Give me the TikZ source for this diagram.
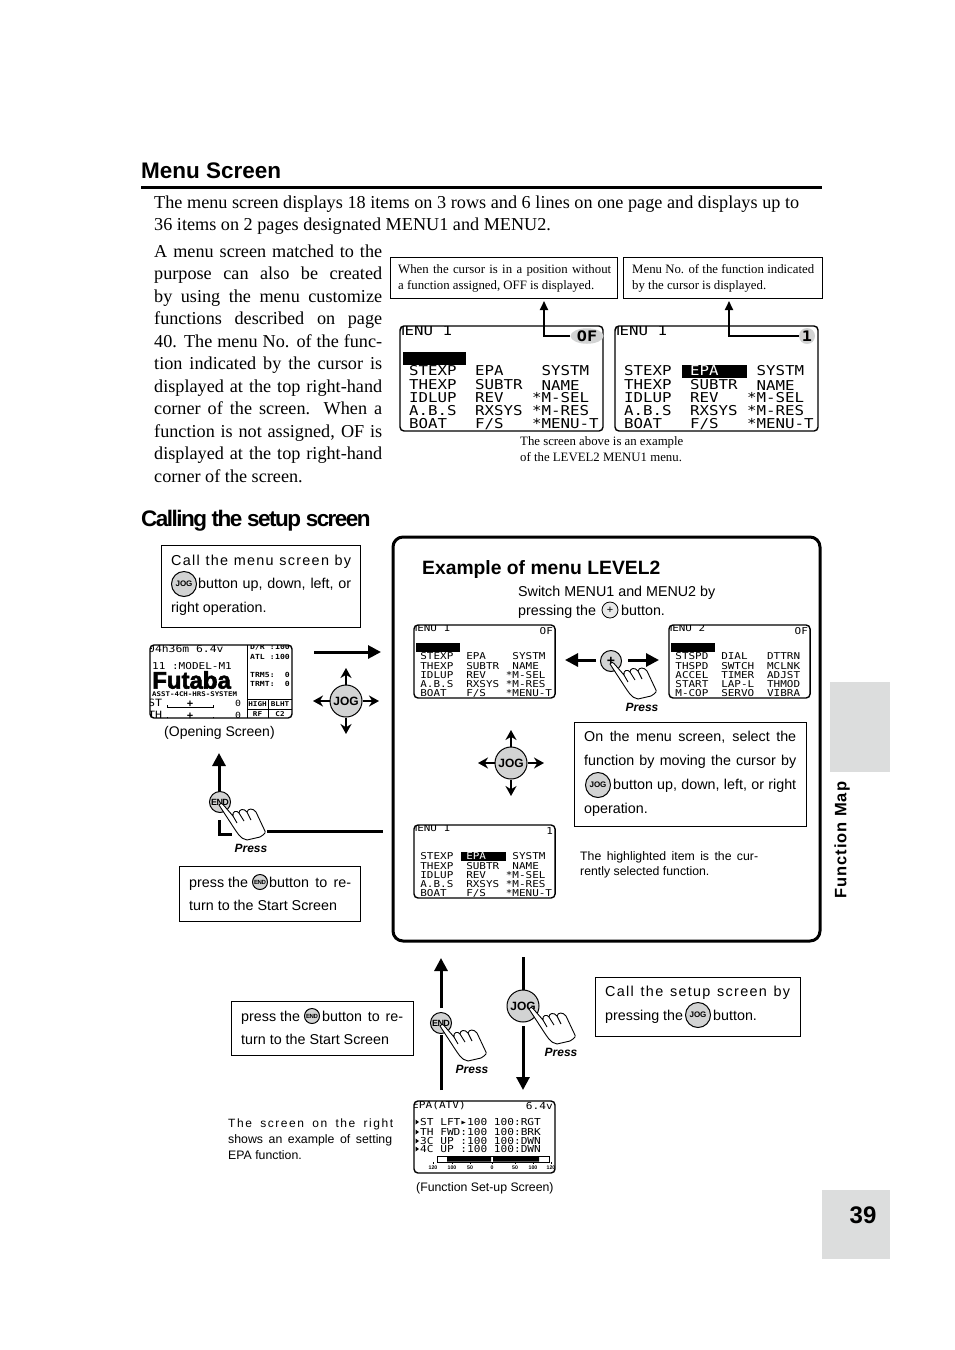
\documentclass[tikz,border=0pt]{standalone}
\usepackage{fontspec}
\setmainfont{Liberation Serif}
\setsansfont{Liberation Sans}
\setmonofont[FakeStretch=1.16]{DejaVu Sans Mono}
\newfontfamily\spacedsans[LetterSpace=9]{Liberation Sans}
\newfontfamily\widesans[LetterSpace=13]{Liberation Sans}
\newfontfamily\tightbold[LetterSpace=-6.8]{Liberation Sans}
\newfontfamily\tabbold[LetterSpace=5.5]{Liberation Sans}
\newfontfamily\logofont[BoldFeatures={FakeBold=2.5}]{Liberation Sans}
\usetikzlibrary{arrows.meta,shapes.geometric}
\definecolor{btngray}{HTML}{D2D3D3}
\definecolor{tabgray}{HTML}{DCDDDD}
% schriften
\newcommand\bodyfont{\fontsize{18.2}{22}\selectfont}
\newcommand\headfont{\sffamily\bfseries\fontsize{22.5}{28}\selectfont}
\newcommand\sansfont{\sffamily\fontsize{14.3}{18}\selectfont}
\newcommand\gapfont{\spacedsans\fontsize{14.4}{18}\selectfont}
\newcommand\smallsans{\sffamily\fontsize{12.3}{14}\selectfont}
\newcommand\smallgap{\widesans\fontsize{12}{14}\selectfont}
\newcommand\notefont{\fontsize{12.8}{15}\selectfont}
\newcommand\lcdfont{\ttfamily\fontsize{13.6}{16}\selectfont}
\tikzset{
  txt/.style={anchor=base west,inner sep=0pt},
  infobox/.style={draw,line width=0.9pt,anchor=north west,inner sep=0pt},
  rule/.style={line width=3pt},
  bigarrow/.style={line width=3pt,-{Triangle[length=13pt,width=13pt]}},
  callout/.style={line width=1.8pt,-{Triangle[length=9pt,width=8pt]}},
  jogarrow/.style={line width=1.8pt,-{Stealth[length=10pt,width=11pt]}},
  jogbtn/.style={circle,draw,line width=1pt,fill=btngray,inner sep=0pt,minimum size=#1},
  lcdframe/.style={line width=1.4pt,rounded corners=4pt},
  lcdcell/.style={anchor=west,inner sep=0pt,font=\lcdfont},
}
% textzeilen, mit laufender nummer als name
\newcounter{tl}
\newcommand\tline[4]{\stepcounter{tl}\node[txt,font=#1] (tl\thetl) at (#2,#3) {#4};}
\newcommand\jline[5]{\stepcounter{tl}\node[txt,font=#1] (tl\thetl) at (#2,#3) {\makebox[#4pt][s]{#5}};}
% lcd: name, x, y, scale, breite, hoehe, inhalt
\newcommand\lcdscope[7]{%
  \begin{scope}[shift={(#2,#3)},scale=#4,transform shape,name prefix=#1-]
    \begin{scope}
      \clip[rounded corners=4pt] (0,0) rectangle (#5,#6);
      #7
    \end{scope}
    \draw[lcdframe] (0,0) rectangle (#5,#6);
  \end{scope}}
\newcommand\menuone{\foreach \r/\a/\b/\c in {45/STEXP/EPA/{\phantom{*}SYSTM},59/THEXP/SUBTR/{\phantom{*}NAME},72/IDLUP/REV/*M-SEL,85/A.B.S/RXSYS/*M-RES,98/BOAT/{F/S}/*MENU-T} {
    \node[lcdcell] (a\r) at (9,\r) {\a};
    \node[lcdcell] (b\r) at (75,\r) {\b};
    \node[lcdcell] (c\r) at (132,\r) {\c};
  }}
\newcommand\menutwo{\foreach \r/\a/\b/\c in {45/STSPD/DIAL/DTTRN,59/THSPD/SWTCH/MCLNK,72/ACCEL/TIMER/ADJST,85/START/LAP-L/THMOD,98/M-COP/SERVO/VIBRA} {
    \node[lcdcell] (a\r) at (9,\r) {\a};
    \node[lcdcell] (b\r) at (75,\r) {\b};
    \node[lcdcell] (c\r) at (141,\r) {\c};
  }}
\newcommand\menuscreen[7]{\lcdscope{#1}{#2}{#3}{#4}{203}{105}{%
    #6
    \node[lcdcell] (title) at (-5,5) {#5};
    #7}}
% cursor leer bzw. auf EPA
\newcommand\cursorfree{\fill (3,26) rectangle (66,39);}
\newcommand\cursorepa{\fill (67,39) rectangle (132,52);
  \node[lcdcell,text=white] (sel) at (75,45) {EPA};}
\newcommand\flagof{\node[lcdcell,anchor=east] (flag) at (200,8) {OF};}
\newcommand\flagone{\node[lcdcell,anchor=east] (flag) at (200,8) {1};}
% druckende hand, spitze beim knopf
\newcommand\presshand[3]{%
  \begin{scope}[shift={(#2,#3)},name prefix=#1-]
    \draw[fill=white,line width=0.9pt,line join=round] (-1,3) .. controls (0,0.5) and (2,1) .. (3,2.5) -- (13,14)
      .. controls (12,9) and (17,8) .. (19,11) .. controls (19,7) and (24,6) .. (27,10)
      .. controls (28,6) and (33,6) .. (36,10) -- (44,27) .. controls (46,31) .. (40,35)
      -- (27,38) .. controls (20,37) and (17,30) .. (14,26) -- cycle;
    \draw[line width=0.9pt] (13,14) -- (17,21) (19,11) -- (24,19) (27,10) -- (31,18);
    \node[txt,font=\sffamily\bfseries\itshape\fontsize{12}{14}\selectfont,anchor=base] (press) at (31,50) {Press};
  \end{scope}}
% jog knopf mit vier pfeilen
\newcommand\jogcross[3]{%
  \begin{scope}[shift={(#2,#3)},name prefix=#1-]
    \node[jogbtn=32pt,font=\sffamily\bfseries\fontsize{12}{12}\selectfont] (knob) at (0,0) {JOG};
    \foreach \d/\dx/\dy in {n/0/-33,s/0/33,w/-33/0,e/33/0} {
      \coordinate (\d) at (\dx,\dy);
      \draw[jogarrow] (knob) -- (\d);
    }
  \end{scope}}
\newcommand\jogicon[3]{\node[jogbtn=25pt,font=\sffamily\bfseries\fontsize{8}{8}\selectfont] (#1) at (#2,#3) {JOG};}
\newcommand\stopicon[3]{\node[jogbtn=15pt,font=\tightbold\bfseries\fontsize{6}{6}\selectfont] (#1) at (#2,#3) {END};}
\newcommand\stopknob[3]{\node[jogbtn=21pt,font=\tightbold\bfseries\fontsize{9}{10}\selectfont] (#1) at (#2,#3) {END};}
\begin{document}
\begin{tikzpicture}[x=1pt,y=-1pt]
\useasboundingbox (0,0) rectangle (954,1350);
% seitenrand
\fill[tabgray] (830,682) rectangle (890,772);
\fill[tabgray] (822,1190) rectangle (890,1259);
\node[font=\sffamily\bfseries\fontsize{24}{24}\selectfont,inner sep=0pt] (pageno) at (863,1215) {39};
\node[font=\tabbold\bfseries\fontsize{16.5}{18}\selectfont,rotate=90,inner sep=0pt] (tabname) at (842,840) {Function Map};
% ueberschriften
\tline{\headfont}{141}{178}{Menu Screen}
\coordinate (ruleL) at (141,187);
\coordinate (ruleR) at (822,187);
\draw[rule] (ruleL) -- (ruleR);
\tline{\tightbold\bfseries\fontsize{22.5}{28}\selectfont}{141}{526}{Calling the setup screen}
% fliesstext
\jline{\bodyfont}{154}{208}{645}{The menu screen displays 18 items on 3 rows and 6 lines on one page and displays up to}
\tline{\bodyfont}{154}{230}{36 items on 2 pages designated MENU1 and MENU2.}
\foreach \y/\t in {257/A menu screen matched to the,279.5/purpose can also be created,302/by using the menu customize,324.5/functions described on page,347/40. The menu No. of the func-,369.5/tion indicated by the cursor is,392/displayed at the top right-hand,414.5/{corner of the screen. When a},437/{function is not assigned, OF is},459.5/displayed at the top right-hand} {
  \jline{\bodyfont}{154}{\y}{228}{\t}
}
\tline{\bodyfont}{154}{482}{corner of the screen.}
% obere hinweise und screens
\node[infobox,minimum width=226.5pt,minimum height=41pt] (noteoff) at (390,257) {};
\node[infobox,minimum width=198.5pt,minimum height=40.5pt] (noteno) at (623,257) {};
\jline{\notefont}{398}{273}{213}{When the cursor is in a position without}
\jline{\notefont}{398}{289}{196}{a function assigned, OFF is displayed.}
\jline{\notefont}{632}{273}{182}{Menu No. of the function indicated}
\tline{\notefont}{632}{289}{by the cursor is displayed.}
\menuscreen{bigA}{400}{326}{1}{MENU 1}{\menuone}{\cursorfree}
\menuscreen{bigB}{615}{326}{1}{MENU 1}{\menuone}{\cursorepa}
\node[ellipse,fill=btngray,inner sep=0pt,minimum width=33pt,minimum height=15pt,font=\ttfamily\bfseries\fontsize{14.5}{16}\selectfont] (ofmark) at (587,336) {OF};
\node[circle,fill=btngray,inner sep=0pt,minimum size=16pt,font=\ttfamily\bfseries\fontsize{14.5}{16}\selectfont] (onemark) at (807,336) {1};
\coordinate (ofup) at (544,301);
\coordinate (oneup) at (729,301);
\draw[callout] (ofmark.west) -| (ofup);
\draw[callout] (onemark.west) -| (oneup);
\tline{\notefont}{520}{445}{The screen above is an example}
\tline{\notefont}{520}{461}{of the LEVEL2 MENU1 menu.}
% linke spalte
\node[infobox,minimum width=199pt,minimum height=81.5pt] (callbox) at (161,545) {};
\jline{\gapfont}{171}{565}{180}{Call the menu screen by}
\jogicon{calljog}{184}{584}
\jline{\sansfont}{198}{588}{153}{button up, down, left, or}
\tline{\sansfont}{171}{612}{right operation.}
\lcdscope{open}{150}{645}{1}{142}{73}{
  \node[lcdcell,font=\ttfamily\fontsize{9.8}{12}\selectfont] (time) at (-2,4) {04h36m 6.4v};
  \node[lcdcell,font=\ttfamily\fontsize{9.5}{12}\selectfont] (model) at (2,21) {11 :MODEL-M1};
  \node[lcdcell,font=\logofont\bfseries\fontsize{24}{24}\selectfont] (logo) at (2,35) {Futaba};
  \node[lcdcell,font=\ttfamily\bfseries\fontsize{6.4}{7}\selectfont] (system) at (2,49.5) {ASST-4CH-HRS-SYSTEM};
  \foreach \r/\l in {58/ST,70/TH} {
    \node[lcdcell,font=\ttfamily\fontsize{10}{12}\selectfont] (l\r) at (-2,\r) {\l};
    \draw[line width=0.7pt] (17,\r+2) -- (17,\r+4) -- (63,\r+4) -- (63,\r+2);
    \node[font=\sffamily\bfseries\fontsize{11}{11}\selectfont,inner sep=0pt] (m\r) at (40,\r+1) {+};
    \node[lcdcell,font=\ttfamily\fontsize{8.5}{10}\selectfont] (z\r) at (85,\r) {0};
  }
  \draw[line width=0.8pt] (97,0) -- (97,73) (97,54) -- (142,54) (97,64) -- (142,64) (118,54) -- (118,73);
  \foreach \r/\k/\v in {2/{D/R :}/100,12/ATL :/100,30/TRM5:/0,39/TRMT:/0} {
    \node[lcdcell,font=\ttfamily\bfseries\fontsize{7}{8}\selectfont] (k\r) at (100,\r) {\k};
    \node[lcdcell,anchor=east,font=\ttfamily\bfseries\fontsize{7}{8}\selectfont] (v\r) at (140,\r) {\v};
  }
  \foreach \x/\y/\t in {107.5/59/HIGH,130/59/BLHT,107.5/69/RF,130/69/C2} {
    \node[font=\ttfamily\bfseries\fontsize{6.6}{8}\selectfont,inner sep=0pt] (s\t) at (\x,\y) {\t};
  }
}
\tline{\sansfont\fontsize{14}{18}\selectfont}{164}{736}{(Opening Screen)}
\coordinate (toexample) at (381,652);
\coordinate (fromopen) at (314,652);
\draw[bigarrow] (fromopen) -- (toexample);
\jogcross{jogA}{346}{701}
% zurueck zum startbild
\coordinate (backA) at (267,831);
\coordinate (backB) at (383,831);
\draw[rule] (backA) -- (backB);
\coordinate (upA) at (219,792);
\coordinate (upB) at (219,753);
\draw[bigarrow] (upA) -- (upB);
\coordinate (elA) at (219,820);
\coordinate (elB) at (219,834);
\coordinate (elC) at (232,834);
\draw[rule] (elA) -- (elB) -- (elC);
\stopknob{endA}{220}{802}
\presshand{handA}{220}{802}
\node[infobox,minimum width=181pt,minimum height=54.5pt] (backbox) at (179,866) {};
\tline{\sansfont}{189}{887}{press the}
\stopicon{endB}{260}{882}
\jline{\sansfont}{269}{887}{82}{button to re-}
\tline{\sansfont}{189}{910}{turn to the Start Screen}
% kasten menu level2
\node[draw,line width=3pt,rounded corners=10pt,anchor=north west,inner sep=0pt,minimum width=427pt,minimum height=404pt] (levelbox) at (391.5,535.5) {};
\tline{\sansfont\bfseries\fontsize{19.3}{22}\selectfont}{422}{574}{Example of menu LEVEL2}
\tline{\sansfont}{518}{596}{Switch MENU1 and MENU2 by}
\tline{\sansfont}{518}{615}{pressing the}
\node[jogbtn=16pt,fill=btngray!50,line width=0.8pt,font=\sffamily\fontsize{11}{11}\selectfont] (plusicon) at (610,610) {+};
\tline{\sansfont}{621}{615}{button.}
\menuscreen{small1}{414}{625}{0.695}{MENU 1}{\menuone}{\cursorfree\flagof}
\menuscreen{small2}{669}{625}{0.695}{MENU 2}{\menutwo}{\cursorfree\flagof}
\coordinate (plusLa) at (596,660);
\coordinate (plusLb) at (565,660);
\coordinate (plusRa) at (628,660);
\coordinate (plusRb) at (659,660);
\draw[bigarrow] (plusLa) -- (plusLb);
\draw[bigarrow] (plusRa) -- (plusRb);
\node[jogbtn=21pt,font=\sffamily\bfseries\fontsize{14}{14}\selectfont] (plusbtn) at (611,661) {+};
\presshand{handB}{611}{661}
\jogcross{jogB}{511}{763}
\menuscreen{small3}{414}{825}{0.695}{MENU 1}{\menuone}{\cursorepa\flagone}
\node[infobox,minimum width=231.5pt,minimum height=103.5pt] (selbox) at (574,722) {};
\jline{\sansfont}{584}{741}{212}{On the menu screen, select the}
\jline{\sansfont}{584}{765}{212}{function by moving the cursor by}
\jogicon{seljog}{598}{785}
\jline{\sansfont}{613}{789}{183}{button up, down, left, or right}
\tline{\sansfont}{584}{813}{operation.}
\jline{\smallsans}{580}{860}{178}{The highlighted item is the cur-}
\tline{\smallsans}{580}{875}{rently selected function.}
% unterer teil
\coordinate (retA) at (441,1090);
\coordinate (retB) at (441,1035);
\draw[rule] (retA) -- (retB);
\coordinate (retC) at (441,1008);
\coordinate (retD) at (441,958);
\draw[bigarrow] (retC) -- (retD);
\stopknob{endC}{441}{1023}
\presshand{handC}{441}{1023}
\coordinate (setA) at (523,957);
\coordinate (setB) at (523,990);
\draw[rule] (setA) -- (setB);
\coordinate (setC) at (523,1026);
\coordinate (setD) at (523,1090);
\draw[bigarrow] (setC) -- (setD);
\node[jogbtn=32pt,font=\sffamily\bfseries\fontsize{12}{12}\selectfont] (jogC) at (523,1006) {JOG};
\presshand{handD}{530}{1006}
\node[infobox,minimum width=181.5pt,minimum height=53.5pt] (retbox) at (231,1001) {};
\tline{\sansfont}{241}{1021}{press the}
\stopicon{endD}{312}{1016}
\jline{\sansfont}{322}{1021}{81}{button to re-}
\tline{\sansfont}{241}{1044}{turn to the Start Screen}
\node[infobox,minimum width=204.5pt,minimum height=58.5pt] (setbox) at (595,977) {};
\jline{\gapfont}{605}{996}{185}{Call the setup screen by}
\tline{\sansfont}{605}{1020}{pressing the}
\jogicon{setjog}{698}{1015}
\tline{\sansfont}{713}{1020}{button.}
\jline{\smallgap}{228}{1127}{165}{The screen on the right}
\jline{\smallsans}{228}{1143}{164}{shows an example of setting}
\tline{\smallsans}{228}{1159}{EPA function.}
\lcdscope{epa}{414}{1101}{1}{141}{72}{
  \node[lcdcell,font=\ttfamily\fontsize{9.6}{12}\selectfont] (head) at (-2,4) {EPA(ATV)};
  \node[lcdcell,anchor=east,font=\ttfamily\fontsize{9.6}{12}\selectfont] (volt) at (139,5) {6.4v};
  \foreach \r/\a/\m/\b/\c in {21/ST LFT/▸/100 100/RGT,31/TH FWD/:/100 100/BRK,40/3C UP /:/100 100/DWN,48/4C UP /:/100 100/DWN} {
    \node[lcdcell,font=\ttfamily\fontsize{9.6}{12}\selectfont] (r\r) at (6,\r) {\a\m\b:\c};
    \fill (1.5,\r-2.5) -- (5,\r) -- (1.5,\r+2.5) -- cycle;
  }
  \draw[line width=0.7pt] (23,55) rectangle (135,61);
  \fill (33,55.5) rectangle (77,60.5) (79,55.5) rectangle (125,60.5);
  \foreach \x/\t in {19/120,38/100,56/50,78/0,101/50,119/100,137/120} {
    \draw[line width=0.5pt] (\x,61) -- (\x,63);
    \node[font=\sffamily\bfseries\fontsize{5.2}{6}\selectfont,inner sep=0pt] (t\x) at (\x,67) {\t};
  }
}
\tline{\smallsans}{416}{1191}{(Function Set-up Screen)}
\end{tikzpicture}
\end{document}
